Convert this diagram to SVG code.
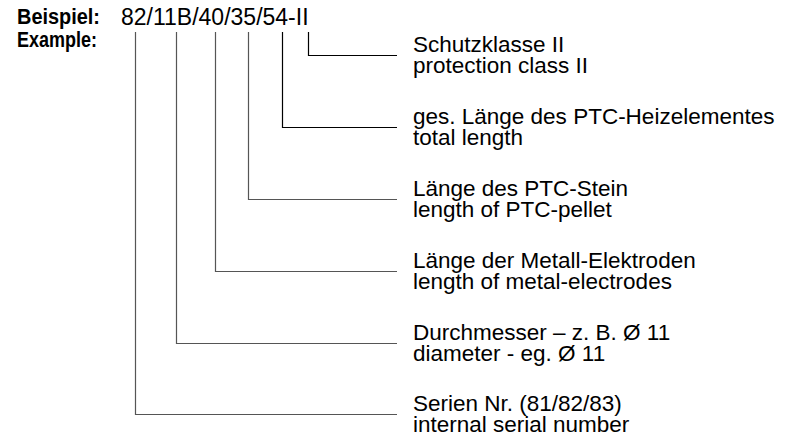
<svg xmlns="http://www.w3.org/2000/svg" width="793" height="439" viewBox="0 0 793 439">
<style>
text{font-family:"Liberation Sans",Arial,sans-serif;font-size:22.5px;fill:#000}
.b{font-weight:bold;font-size:22px}
.n{font-size:23px}
.c{fill:none;stroke-width:1.2}
.k{stroke:#000}
.g{stroke:#555}
</style>
<rect width="793" height="439" fill="#fff"/>
<g id="header">
<text class="b" x="17" y="24" textLength="83" lengthAdjust="spacingAndGlyphs">Beispiel:</text>
<text class="b" x="17" y="47" textLength="80" lengthAdjust="spacingAndGlyphs">Example:</text>
<text class="n" x="121" y="25">82/11B/40/35/54-II</text>
</g>
<g id="connectors">
<polyline class="c k" points="308.5,32 308.5,55.5 397,55.5"/>
<polyline class="c k" points="282.5,32 282.5,127.5 397,127.5"/>
<polyline class="c g" points="248.5,32 248.5,199.5 397,199.5"/>
<polyline class="c g" points="215.5,32 215.5,271.5 397,271.5"/>
<polyline class="c g" points="176.5,32 176.5,343.5 397,343.5"/>
<polyline class="c g" points="135.5,32 135.5,414.5 397,414.5"/>
</g>
<g id="n1"><text x="413" y="51.5">Schutzklasse II</text><text x="413" y="72.5">protection class II</text></g>
<g id="n2"><text x="413" y="123.5">ges. Länge des PTC-Heizelementes</text><text x="413" y="144.5">total length</text></g>
<g id="n3"><text x="413" y="195.5">Länge des PTC-Stein</text><text x="413" y="216.5">length of PTC-pellet</text></g>
<g id="n4"><text x="413" y="267.5">Länge der Metall-Elektroden</text><text x="413" y="288.5">length of metal-electrodes</text></g>
<g id="n5"><text x="413" y="339.5">Durchmesser – z. B. Ø 11</text><text x="413" y="360.5">diameter - eg. Ø 11</text></g>
<g id="n6"><text x="413" y="410.5">Serien Nr. (81/82/83)</text><text x="413" y="431.5">internal serial number</text></g>
</svg>
